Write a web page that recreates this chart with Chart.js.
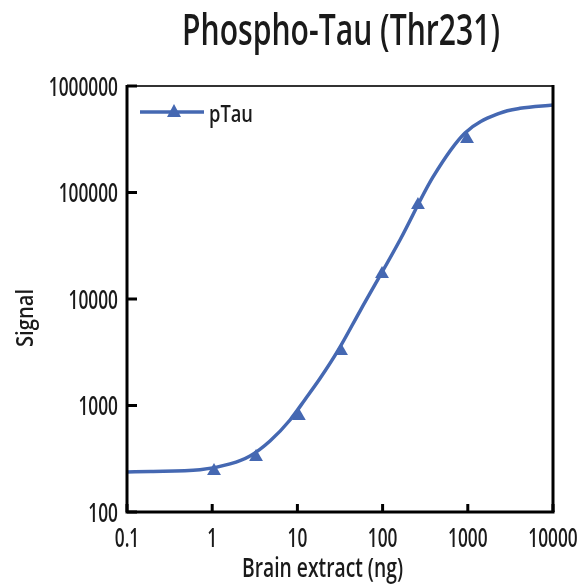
<!DOCTYPE html>
<html>
<head>
<meta charset="utf-8">
<script src="https://cdn.jsdelivr.net/npm/chart.js@4"></script>
<style>
    html, body { margin: 0; padding: 0; background: #fff; }
    #wrap { width: 579px; height: 586px; }
</style>
</head>
<body>
<div id="wrap"><canvas id="chart"></canvas></div>
<script>
// Data
const doseMeasured = [1.05, 3.27, 10.4, 32.5, 98.4, 260, 980];
const signalMeasured = [243, 328, 796, 3250, 17200, 76400, 318000];

// fitted curve
const doseCurve = [0.1, 0.19, 0.72, 1.62, 2.78, 4.77, 8.19, 12.3, 18.4, 30, 54.3, 160, 391, 927, 2388, 4100, 10000];
const signalCurve = [238, 240, 249, 283, 336, 464, 731, 1140, 1790, 3290, 7710, 35800, 140000, 362000, 557000, 617000, 664000];

const xTicks = [0.1, 1, 10, 100, 1000, 10000];
const yTicks = [100, 1000, 10000, 100000, 1000000];
const xTickLabels = ['0.1', '1', '10', '100', '1000', '10000'];
const yTickLabels = ['100', '1000', '10000', '100000', '1000000'];

const FONT = "'Open Sans', 'DejaVu Sans', sans-serif";
const WEIGHT = 600;
const BLUE = '#4568B2';
const INK = '#1a1a1a';

// narrow text: squeeze horizontally by sx
function drawText(ctx, text, x, y, size, sx, align) {
    ctx.save();
    ctx.font = WEIGHT + ' ' + size + 'px ' + FONT;
    ctx.textBaseline = 'alphabetic';
    ctx.textAlign = 'left';
    const w = ctx.measureText(text).width * sx;
    let left = x;
    if (align === 'center') left = x - w / 2;
    if (align === 'right') left = x - w;
    ctx.translate(left, y);
    ctx.scale(sx, 1);
    ctx.fillText(text, 0, 0);
    ctx.restore();
}

// fit text to a width
function fitText(ctx, text, left, y, size, width) {
    ctx.save();
    ctx.font = WEIGHT + ' ' + size + 'px ' + FONT;
    const sx = width / ctx.measureText(text).width;
    ctx.restore();
    drawText(ctx, text, left, y, size, sx, 'left');
}

const framePlugin = {
    id: 'frame',
    afterDraw(chart) {
        const ctx = chart.ctx;
        const a = chart.chartArea;
        const xs = chart.scales.x, ys = chart.scales.y;
        ctx.save();

        // box
        ctx.strokeStyle = '#333';
        ctx.lineWidth = 2;
        ctx.beginPath();
        ctx.moveTo(a.left, a.top);
        ctx.lineTo(a.right, a.top);
        ctx.stroke();
        ctx.strokeStyle = '#000';
        ctx.lineWidth = 3;
        ctx.beginPath();
        ctx.moveTo(a.right, a.top - 1);
        ctx.lineTo(a.right, a.bottom);
        ctx.stroke();
        ctx.beginPath();
        ctx.moveTo(a.left, a.top - 1);
        ctx.lineTo(a.left, a.bottom);
        ctx.lineTo(a.right + 1.5, a.bottom);
        ctx.stroke();

        // inward ticks + labels
        ctx.fillStyle = INK;
        xTicks.forEach((v, i) => {
            const px = xs.getPixelForValue(v);
            ctx.beginPath();
            ctx.moveTo(px, a.bottom);
            ctx.lineTo(px, a.bottom - 8);
            ctx.stroke();
            drawText(ctx, xTickLabels[i], px, a.bottom + 35, 27, 0.64, 'center');
        });
        yTicks.forEach((v, i) => {
            const py = ys.getPixelForValue(v);
            ctx.beginPath();
            ctx.moveTo(a.left, py);
            ctx.lineTo(a.left + 10, py);
            ctx.stroke();
            drawText(ctx, yTickLabels[i], a.left - 9, py + 9.5, 27, 0.64, 'right');
        });

        // titles
        fitText(ctx, 'Phospho-Tau (Thr231)', 182, 45, 43, 318);
        fitText(ctx, 'Brain extract (ng)', 242, 577, 27, 161);
        ctx.save();
        ctx.translate(33, 347);
        ctx.rotate(-Math.PI / 2);
        fitText(ctx, 'Signal', 0, 0, 23, 58);
        ctx.restore();

        // legend
        const ly = 112;
        ctx.strokeStyle = BLUE;
        ctx.lineWidth = 3.5;
        ctx.beginPath();
        ctx.moveTo(140, ly);
        ctx.lineTo(204, ly);
        ctx.stroke();
        ctx.fillStyle = BLUE;
        ctx.beginPath();
        ctx.moveTo(174, ly - 8);
        ctx.lineTo(181, ly + 5);
        ctx.lineTo(167, ly + 5);
        ctx.closePath();
        ctx.fill();
        ctx.fillStyle = INK;
        fitText(ctx, 'pTau', 209, 122, 24, 44);
        ctx.restore();
    }
};

new Chart(document.getElementById('chart'), {
    type: 'scatter',
    data: {
        datasets: [
            {
                label: 'pTau fit',
                data: doseCurve.map((x, i) => ({ x: x, y: signalCurve[i] })),
                showLine: true,
                borderColor: BLUE,
                borderWidth: 3.5,
                pointRadius: 0,
                cubicInterpolationMode: 'monotone'
            },
            {
                label: 'pTau',
                data: doseMeasured.map((x, i) => ({ x: x, y: signalMeasured[i] })),
                showLine: false,
                pointStyle: 'triangle',
                pointRadius: 8,
                backgroundColor: BLUE,
                borderColor: BLUE,
                borderWidth: 0
            }
        ]
    },
    options: {
        responsive: true,
        maintainAspectRatio: false,
        animation: false,
        layout: { padding: { top: 86, right: 26, left: 127, bottom: 74 } },
        plugins: {
            legend: { display: false },
            tooltip: { enabled: false },
            title: { display: false }
        },
        scales: {
            x: { type: 'logarithmic', min: 0.1, max: 10000, display: false },
            y: { type: 'logarithmic', min: 100, max: 1000000, display: false }
        }
    },
    plugins: [framePlugin]
});
</script>
</body>
</html>
